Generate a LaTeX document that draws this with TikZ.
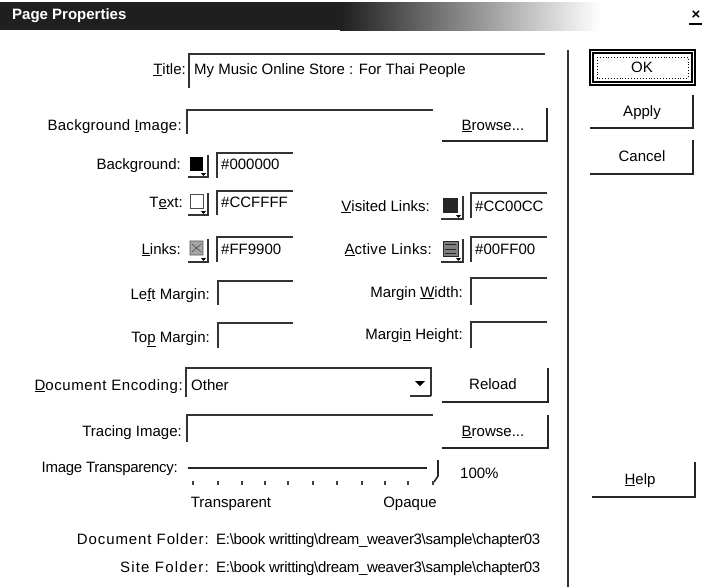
\documentclass[tikz,border=0pt]{standalone}
\usepackage{fontspec}
\setmainfont{Liberation Sans}
\newcommand\dlgfont{\fontsize{15}{15}\selectfont}
\tikzset{
  lbl/.style={anchor=east, inner sep=0pt, font=\dlgfont, text height=11pt, text depth=3pt},
  val/.style={anchor=west, inner sep=0pt, font=\dlgfont, text height=11pt, text depth=3pt},
  ctr/.style={inner sep=0pt, font=\dlgfont, text height=11pt, text depth=3pt},
  sunk/.style={line width=1.6pt, draw=black!80},
  raised/.style={line width=1.8pt, draw=black!85},
  swbtn/.style={line width=1.2pt, draw=black!80},
  tick/.style={line width=1.3pt, draw=black!75},
}
\begin{document}
\begin{tikzpicture}[x=1pt,y=-1pt]
\useasboundingbox[fill=white] (0,0) rectangle (702,587);
% title bar
\fill[black!88] (0,2) rectangle (340,30);
\shade[left color=black!88, right color=white] (340,2) rectangle (600,30);
\node[anchor=west, inner sep=0pt, text=white, font=\bfseries\dlgfont] (ttl) at (12,16) {Page Properties};
\node[inner sep=0pt, font=\bfseries\dlgfont] (close) at (696,15) {×};
\draw[line width=1.3pt] (689,24) -- (702,24);
% separator
\draw[line width=1.3pt, black!80] (568,50) -- (568,587);
% right buttons
\draw[line width=1.4pt] (590,50) rectangle (695,85);
\draw[line width=1.4pt] (593,53) rectangle (692,82);
\draw[dotted, line width=0.9pt] (597,57) rectangle (688,78);
\node[ctr] (ok) at (642,68) {OK};
\draw[raised] (590,128) -- (693,128) -- (693,95);
\node[ctr] (apply) at (642,112) {Apply};
\draw[raised] (590,174) -- (693,174) -- (693,140);
\node[ctr] (cancel) at (642,157) {Cancel};
\draw[raised] (592,497) -- (695,497) -- (695,462);
\node[ctr] (help) at (640,480) {\underline{H}elp};
% Title
\node[lbl] (tl) at (186,70) {\underline{T}itle:};
\draw[sunk] (189,88) -- (189,54) -- (545,54);
\node[val] (tv) at (194,70) {My Music Online Store : For Thai People};
% Background image
\node[lbl] (bil) at (182,126) {\addfontfeature{LetterSpace=2}Background \underline{I}mage:};
\draw[sunk] (187,134) -- (187,110) -- (433,110);
\draw[raised] (442,141) -- (547,141) -- (547,108);
\node[ctr] (br1) at (493,126) {\underline{B}rowse...};
% Background colour
\node[lbl] (bgl) at (181,165) {Background:};
\fill[black] (190,157) rectangle (203,171);
\fill[black] (201,173) -- (206,173) -- (203.5,176) -- cycle;
\draw[swbtn] (188,177) -- (208,177) -- (208,155);
\draw[sunk] (217,178) -- (217,153) -- (293,153);
\node[val] (bgv) at (221,165) {\#000000};
% Text colour
\node[lbl] (txl) at (183,203) {T\underline{e}xt:};
\draw[black!70, line width=0.8pt] (190,194) rectangle (203,208);
\fill[black] (201,211) -- (206,211) -- (203.5,214) -- cycle;
\draw[swbtn] (188,215) -- (208,215) -- (208,193);
\draw[sunk] (217,215) -- (217,191) -- (293,191);
\node[val] (txv) at (221,203) {\#CCFFFF};
% Links colour
\node[lbl] (lkl) at (181,250) {\underline{L}inks:};
\fill[black!35] (190,241) rectangle (203,255);
\draw[black!70, line width=0.6pt] (190,241) rectangle (203,255) (192,244) -- (201,252) (192,252) -- (201,244);
\fill[black] (201,258) -- (206,258) -- (203.5,261) -- cycle;
\draw[swbtn] (188,262) -- (208,262) -- (208,239);
\draw[sunk] (217,262) -- (217,237) -- (293,237);
\node[val] (lkv) at (221,250) {\#FF9900};
% Visited links
\node[lbl] (vll) at (430,207) {\underline{V}isited Links:};
\fill[black!85] (443,198) rectangle (458,213);
\fill[black] (456,215) -- (461,215) -- (458.5,218) -- cycle;
\draw[swbtn] (441,219) -- (463,219) -- (463,196);
\draw[sunk] (471,218) -- (471,193) -- (547,193);
\node[val] (vlv) at (475,207) {\#CC00CC};
% Active links
\node[lbl] (all) at (432,250) {\addfontfeature{LetterSpace=2}\underline{A}ctive Links:};
\fill[black!50] (443,241) rectangle (458,256);
\draw[black!85, line width=0.6pt] (443,241) rectangle (458,256) (445,244) -- (456,244) (445,249) -- (456,249) (445,253) -- (456,253);
\fill[black] (456,258) -- (461,258) -- (458.5,261) -- cycle;
\draw[swbtn] (441,262) -- (463,262) -- (463,239);
\draw[sunk] (471,262) -- (471,237) -- (547,237);
\node[val] (alv) at (475,250) {\#00FF00};
% Margins
\node[lbl] (lml) at (210,295) {Le\underline{f}t Margin:};
\draw[sunk] (218,305) -- (218,281) -- (293,281);
\node[lbl] (mwl) at (463,293) {Margin \underline{W}idth:};
\draw[sunk] (471,305) -- (471,278) -- (547,278);
\node[lbl] (tml) at (210,338) {To\underline{p} Margin:};
\draw[sunk] (218,348) -- (218,323) -- (293,323);
\node[lbl] (mhl) at (463,335) {Margi\underline{n} Height:};
\draw[sunk] (471,348) -- (471,322) -- (547,322);
% Document encoding
\node[lbl] (del) at (183,386) {\addfontfeature{LetterSpace=4}\underline{D}ocument Encoding:};
\draw[sunk] (186,397) -- (186,368) -- (431,368) -- (431,396);
\draw[line width=1.4pt, black!80] (410,396) -- (431,396);
\fill[black] (415,381) -- (425,381) -- (420,386) -- cycle;
\node[val] (dev) at (191,386) {Other};
\draw[raised] (442,402) -- (548,402) -- (548,368);
\node[ctr] (reload) at (493,385) {Reload};
% Tracing image
\node[lbl] (til) at (182,432) {Tracing Image:};
\draw[sunk] (187,442) -- (187,415) -- (433,415);
\draw[raised] (442,448) -- (548,448) -- (548,415);
\node[ctr] (br2) at (493,432) {\underline{B}rowse...};
% Image transparency
\node[lbl] (itl) at (178,468) {\addfontfeature{LetterSpace=-2}Image Transparency:};
\draw[line width=1.6pt, black!85] (188,468) -- (427,468);
\draw[line width=1.6pt, black!85] (438,460) -- (438,476) -- (434,482);
\foreach \tx in {193,218,242,265,288,313,337,362,385,408,433}
  \draw[tick] (\tx,481) -- (\tx,485);
\node[val] (pct) at (460,474) {100\%};
\node[ctr] (transp) at (231,503) {Transparent};
\node[ctr] (opaque) at (410,503) {Opaque};
% folders
\node[lbl] (dfl) at (209,540) {\addfontfeature{LetterSpace=6}Document Folder:};
\node[val] (dfv) at (216,540) {\addfontfeature{LetterSpace=-2}E:\textbackslash book writting\textbackslash dream\_weaver3\textbackslash sample\textbackslash chapter03};
\node[lbl] (sfl) at (209,568) {\addfontfeature{LetterSpace=8}Site Folder:};
\node[val] (sfv) at (216,568) {\addfontfeature{LetterSpace=-2}E:\textbackslash book writting\textbackslash dream\_weaver3\textbackslash sample\textbackslash chapter03};
\end{tikzpicture}
\end{document}
